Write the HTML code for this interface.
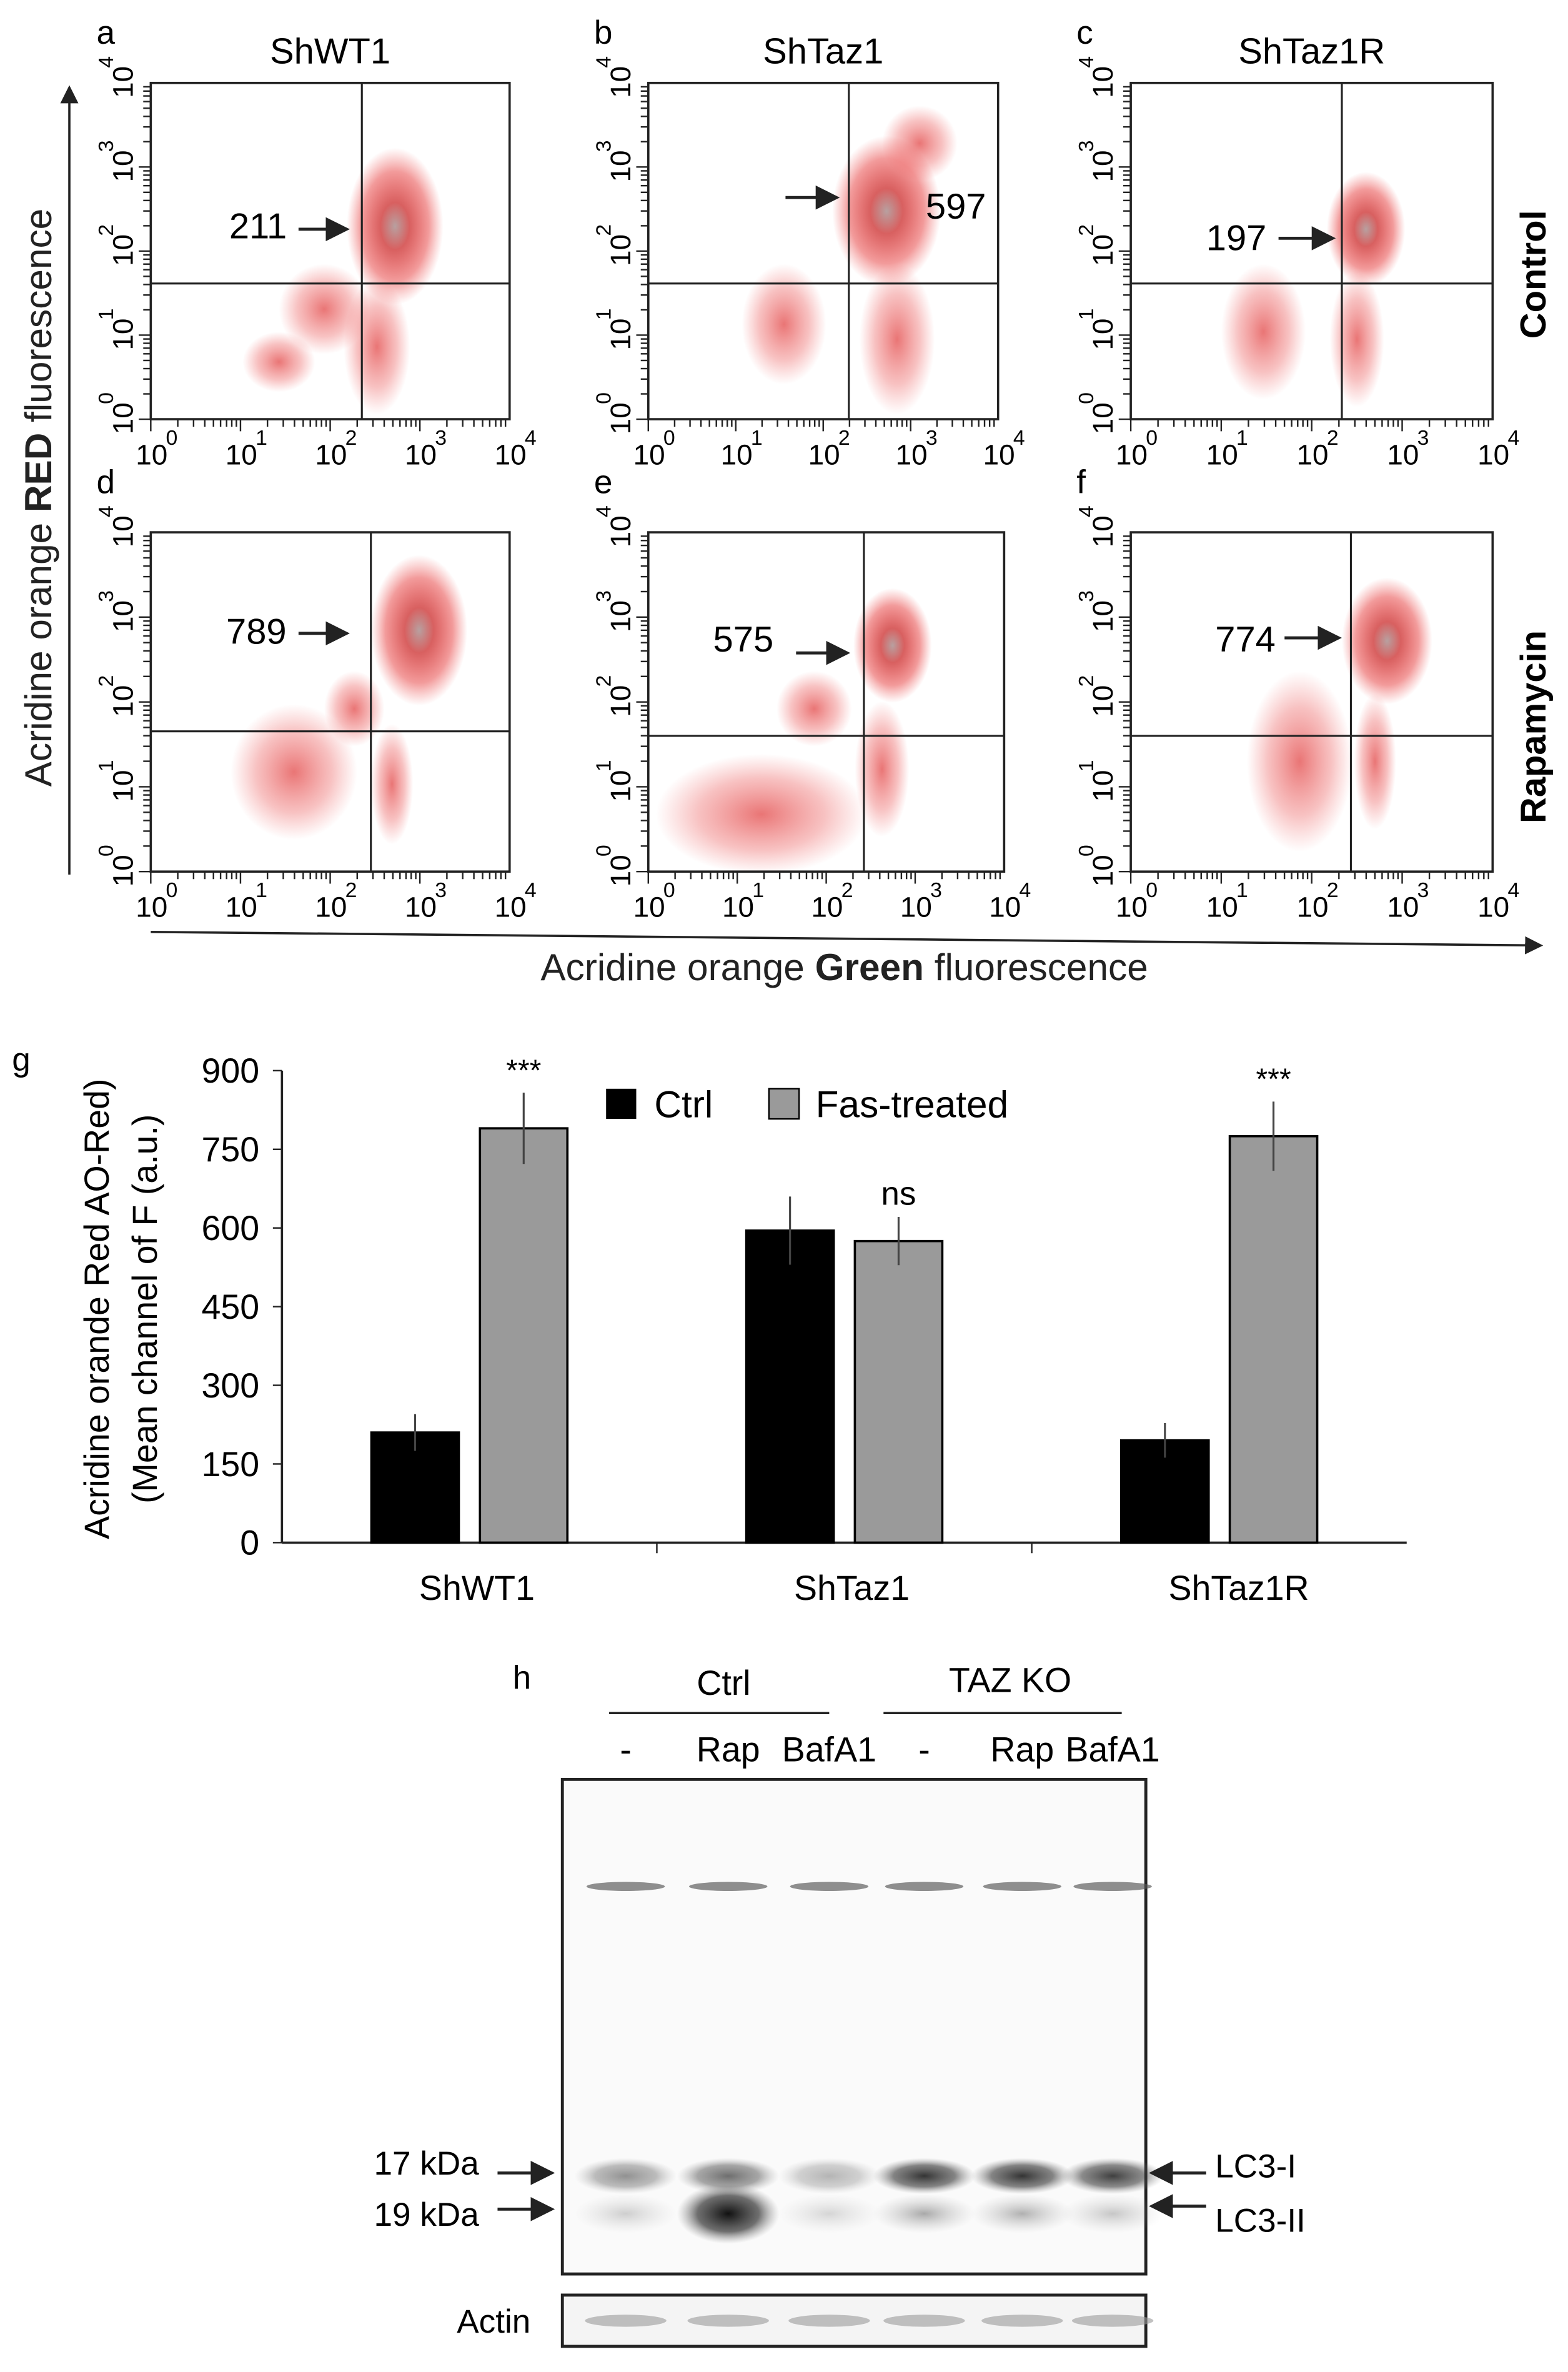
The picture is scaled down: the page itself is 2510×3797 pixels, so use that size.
<!DOCTYPE html>
<html><head><meta charset="utf-8">
<style>
html,body{margin:0;padding:0;background:#fff;}
svg{display:block;font-family:"Liberation Sans",sans-serif;}
</style></head>
<body>
<svg id="fig" width="2510" height="3797" viewBox="0 0 1040 1573" preserveAspectRatio="none" xmlns="http://www.w3.org/2000/svg">
<defs>
<radialGradient id="cl"><stop offset="0" stop-color="#b8a0a0"/><stop offset="0.3" stop-color="#d86060"/><stop offset="0.7" stop-color="#e84a4a" stop-opacity="0.55"/><stop offset="1" stop-color="#f06060" stop-opacity="0"/></radialGradient>
<radialGradient id="cl2"><stop offset="0" stop-color="#e03a3a" stop-opacity="0.7"/><stop offset="0.6" stop-color="#ea5050" stop-opacity="0.35"/><stop offset="1" stop-color="#f06060" stop-opacity="0"/></radialGradient>
<radialGradient id="band"><stop offset="0" stop-color="#111"/><stop offset="0.6" stop-color="#333" stop-opacity="0.7"/><stop offset="1" stop-color="#888" stop-opacity="0"/></radialGradient>
<radialGradient id="bandL"><stop offset="0" stop-color="#666"/><stop offset="1" stop-color="#aaa" stop-opacity="0"/></radialGradient>
<marker id="ah" markerWidth="8" markerHeight="8" refX="7" refY="4" orient="auto"><path d="M0,0 L8,4 L0,8 z" fill="#222"/></marker>
</defs>
<g id="scatters"></g>
<line x1="46" y1="580" x2="46" y2="58" stroke="#222" stroke-width="1.5" marker-end="url(#ah)"/>
<line x1="100" y1="618" x2="1022" y2="627" stroke="#222" stroke-width="1.5" marker-end="url(#ah)"/>
<text transform="translate(34,330) rotate(-90)" text-anchor="middle" font-size="25" fill="#222">Acridine orange <tspan font-weight="bold">RED</tspan> fluorescence</text>
<text x="560" y="650" text-anchor="middle" font-size="25" fill="#222">Acridine orange <tspan font-weight="bold">Green</tspan> fluorescence</text>
<text transform="translate(1025,182) rotate(-90)" text-anchor="middle" font-size="24" font-weight="bold">Control</text>
<text transform="translate(1025,482) rotate(-90)" text-anchor="middle" font-size="24" font-weight="bold">Rapamycin</text>
<g id="bars"></g>
<g id="blot"></g>
</svg>
<script>
const NS="http://www.w3.org/2000/svg";
function mk(tag,attrs,parent,txt){const e=document.createElementNS(NS,tag);for(const k in attrs)e.setAttribute(k,attrs[k]);if(txt!==undefined)e.textContent=txt;parent.appendChild(e);return e;}
const sc=document.getElementById('scatters');
const panels=[
 {id:'a',t:'ShWT1',x0:100,x1:338,y0:55,y1:278,vx:240,hy:188,val:'211',vx0:152,vy:158,ax:[198,230,152],c:[[262,150,32,52],[250,230,22,45],[215,205,30,30],[185,240,24,20]]},
 {id:'b',t:'ShTaz1',x0:430,x1:662,y0:55,y1:278,vx:563,hy:188,val:'597',vx0:614,vy:145,ax:[521,555,131],c:[[588,140,36,50],[595,225,25,50],[520,215,28,40],[610,95,25,25]]},
 {id:'c',t:'ShTaz1R',x0:750,x1:990,y0:55,y1:278,vx:890,hy:188,val:'197',vx0:800,vy:166,ax:[848,884,158],c:[[906,152,26,38],[900,225,18,45],[838,220,28,45]]},
 {id:'d',t:'',x0:100,x1:338,y0:353,y1:578,vx:246,hy:485,val:'789',vx0:150,vy:427,ax:[198,230,420],c:[[278,418,32,50],[195,512,42,45],[260,520,14,40],[235,470,20,25]]},
 {id:'e',t:'',x0:430,x1:666,y0:353,y1:578,vx:573,hy:488,val:'575',vx0:473,vy:432,ax:[528,562,433],c:[[592,428,26,38],[505,540,70,40],[585,510,18,45],[540,470,25,25]]},
 {id:'f',t:'',x0:750,x1:990,y0:353,y1:578,vx:896,hy:488,val:'774',vx0:806,vy:432,ax:[852,888,423],c:[[920,425,30,42],[862,505,35,60],[912,505,14,45]]}
];
panels.forEach(p=>{
 const g=mk('g',{},sc);
 
 
 mk('text',{x:p.x0-36,y:p.y0-26,'font-size':22},g,p.id);
 if(p.t)mk('text',{x:(p.x0+p.x1)/2,y:42,'text-anchor':'middle','font-size':24},g,p.t);
 p.c.forEach((c,i)=>mk('ellipse',{cx:c[0],cy:c[1],rx:c[2],ry:c[3],fill:i==0?'url(#cl)':'url(#cl2)'},g));
 mk('rect',{x:p.x0,y:p.y0,width:p.x1-p.x0,height:p.y1-p.y0,fill:'none',stroke:'#222','stroke-width':1.5},g);
 mk('line',{x1:p.vx,y1:p.y0,x2:p.vx,y2:p.y1,stroke:'#222','stroke-width':1.3},g);
 mk('line',{x1:p.x0,y1:p.hy,x2:p.x1,y2:p.hy,stroke:'#222','stroke-width':1.3},g);
 const w=p.x1-p.x0,h=p.y1-p.y0;
 for(let d=0;d<=4;d++){
  const xx=p.x0+w*d/4, yy=p.y1-h*d/4;
  mk('text',{x:xx-10,y:p.y1+30,'font-size':19},g,'10');
  mk('text',{x:xx+10,y:p.y1+17,'font-size':14},g,String(d));
  mk('text',{transform:`translate(${p.x0-12},${yy+10}) rotate(-90)`,'font-size':19},g,'10');
  mk('text',{transform:`translate(${p.x0-25},${yy-10}) rotate(-90)`,'font-size':14},g,String(d));
  if(d<4)for(let m=1;m<10;m++){const f=Math.log10(m)/4;
   mk('line',{x1:p.x0+w*(d/4+f),y1:p.y1,x2:p.x0+w*(d/4+f),y2:p.y1+(m==1?8:5),stroke:'#222','stroke-width':1},g);
   mk('line',{x1:p.x0,y1:p.y1-h*(d/4+f),x2:p.x0-(m==1?8:5),y2:p.y1-h*(d/4+f),stroke:'#222','stroke-width':1},g);}
 }
 mk('text',{x:p.vx0,y:p.vy,'font-size':24},g,p.val);
 mk('line',{x1:p.ax[0],y1:p.ax[2],x2:p.ax[1],y2:p.ax[2],stroke:'#222','stroke-width':2,'marker-end':'url(#ah)'},g);
});
// ---------- bar chart ----------
const groups=['ShWT1','ShTaz1','ShTaz1R'];
const ctrlVals=[210,595,195];
const fasVals=[790,575,775];
const ctrlErr=[35,65,33];
const fasErr=[68,46,66];
const sigLabels=['***','ns','***'];
const yTicks=[0,150,300,450,600,750,900];
const bg=document.getElementById('bars');
const X0=187,X1=933,Y0=1023,Y1=710,YMAX=900;
const ys=v=>Y0-(v/YMAX)*(Y0-Y1);
const gw=(X1-X0)/groups.length;
mk('text',{x:8,y:710,'font-size':22},bg,'g');
const yt=mk('text',{transform:'translate(72,868) rotate(-90)','text-anchor':'middle','font-size':23},bg,'Acridine orande Red AO-Red)');

mk('text',{transform:'translate(104,868) rotate(-90)','text-anchor':'middle','font-size':23},bg,'(Mean channel of F (a.u.)');
mk('line',{x1:X0,y1:Y1,x2:X0,y2:Y0,stroke:'#222','stroke-width':1.5},bg);
mk('line',{x1:X0,y1:Y0,x2:X1,y2:Y0,stroke:'#222','stroke-width':1.5},bg);
yTicks.forEach(t=>{const l=mk('text',{x:X0-15,y:ys(t)+8,'text-anchor':'end','font-size':23},bg,String(t));
 
 mk('line',{x1:X0-6,y1:ys(t),x2:X0,y2:ys(t),stroke:'#222'},bg);});
groups.forEach((gname,i)=>{
 const cx=X0+gw*i+gw/2+5;
 if(i>0)mk('line',{x1:X0+gw*i,y1:Y0,x2:X0+gw*i,y2:Y0+7,stroke:'#222'},bg);
 mk('text',{x:cx+(i==2?8:0),y:Y0+38,'text-anchor':'middle','font-size':23},bg,gname);
 const bw=58;
 [[ctrlVals,ctrlErr,'#000',cx-70,'ctrl'],[fasVals,fasErr,'#9a9a9a',cx+2,'fas']].forEach(s=>{
  const v=s[0][i],e=s[1][i];
  const r=mk('rect',{x:s[3],y:ys(v),width:bw,height:Y0-ys(v),fill:s[2],stroke:'#000','stroke-width':1.5},bg);
  
  mk('line',{x1:s[3]+bw/2,y1:ys(v+e),x2:s[3]+bw/2,y2:ys(v-e),stroke:'#444','stroke-width':1.3},bg);
 });
 mk('text',{x:cx+31,y:ys(fasVals[i]+fasErr[i])-8,'text-anchor':'middle','font-size':sigLabels[i]=='ns'?22:20},bg,sigLabels[i]);
});
const lg=mk('g',{},bg);
mk('rect',{x:402,y:722,width:20,height:20,fill:'#000'},lg);
mk('text',{x:434,y:741,'font-size':25},lg,'Ctrl');
mk('rect',{x:510,y:722,width:20,height:20,fill:'#9a9a9a',stroke:'#000'},lg);
mk('text',{x:541,y:741,'font-size':25},lg,'Fas-treated');
// ---------- western blot ----------
const bl=document.getElementById('blot');
const lanes=[405,473,540,603,668,728];
const lc3i=[0.45,0.6,0.3,0.85,0.85,0.8];
const lc3ii=[0.3,1.0,0.25,0.55,0.5,0.35];
mk('text',{x:340,y:1120,'font-size':22},bl,'h');
mk('text',{x:480,y:1124,'text-anchor':'middle','font-size':23},bl,'Ctrl');
mk('text',{x:670,y:1122,'text-anchor':'middle','font-size':23},bl,'TAZ KO');
mk('line',{x1:404,y1:1136,x2:550,y2:1136,stroke:'#222','stroke-width':1.5},bl);
mk('line',{x1:586,y1:1136,x2:744,y2:1136,stroke:'#222','stroke-width':1.5},bl);
['-','Rap','BafA1','-','Rap','BafA1'].forEach((t,i)=>mk('text',{x:lanes[i]+10,y:1168,'text-anchor':'middle','font-size':23},bl,t));
const box=mk('rect',{x:373,y:1180,width:387,height:328,fill:'#fafafa',stroke:'#222','stroke-width':2},bl);

lanes.forEach((lx,i)=>{
 mk('ellipse',{cx:lx+10,cy:1251,rx:26,ry:3,fill:'#555',opacity:0.65},bl);
 mk('ellipse',{cx:lx+10,cy:1443,rx:34,ry:12,fill:'url(#band)',opacity:lc3i[i]},bl);
 mk('ellipse',{cx:lx+10,cy:1468,rx:34,ry:i==1?20:13,fill:i==1?'url(#band)':'url(#bandL)',opacity:lc3ii[i]},bl);
});
mk('text',{x:248,y:1442,'font-size':22},bl,'17 kDa');
mk('text',{x:248,y:1476,'font-size':22},bl,'19 kDa');
mk('line',{x1:330,y1:1441,x2:366,y2:1441,stroke:'#222','stroke-width':2,'marker-end':'url(#ah)'},bl);
mk('line',{x1:330,y1:1465,x2:366,y2:1465,stroke:'#222','stroke-width':2,'marker-end':'url(#ah)'},bl);
mk('line',{x1:800,y1:1441,x2:764,y2:1441,stroke:'#222','stroke-width':2,'marker-end':'url(#ah)'},bl);
mk('line',{x1:800,y1:1463,x2:764,y2:1463,stroke:'#222','stroke-width':2,'marker-end':'url(#ah)'},bl);
mk('text',{x:806,y:1444,'font-size':22},bl,'LC3-I');
mk('text',{x:806,y:1480,'font-size':22},bl,'LC3-II');
mk('rect',{x:373,y:1522,width:387,height:34,fill:'#f4f4f4',stroke:'#222','stroke-width':2},bl);
lanes.forEach(lx=>mk('ellipse',{cx:lx+10,cy:1539,rx:27,ry:4,fill:'#999',opacity:0.6},bl));
mk('text',{x:303,y:1547,'font-size':22},bl,'Actin');
</script>
</body></html>
